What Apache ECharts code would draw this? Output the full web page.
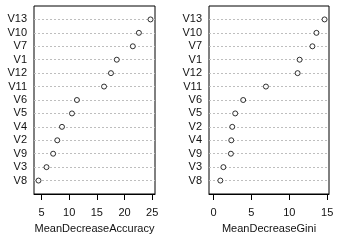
<!DOCTYPE html>
<html><head><meta charset="utf-8">
<script src="https://cdn.jsdelivr.net/npm/echarts@6/dist/echarts.min.js"></script>
<style>html,body{margin:0;padding:0;background:#fff}#c{width:341px;height:243px}</style>
</head><body><div id="c"></div>
<script>
// Left panel (bottom to top)
const accNames = ['V8','V3','V9','V2','V4','V5','V6','V11','V12','V1','V7','V10','V13'];
const accValues = [4.45, 5.9, 7.1, 7.85, 8.7, 10.5, 11.4, 16.3, 17.55, 18.6, 21.5, 22.6, 24.7];
// Right panel (bottom to top)
const giniNames = ['V8','V3','V9','V4','V2','V5','V6','V11','V12','V1','V7','V10','V13'];
const giniValues = [0.91, 1.31, 2.3, 2.35, 2.48, 2.87, 3.92, 6.92, 11.1, 11.36, 13.05, 13.58, 14.65];
const accTicks = [5, 10, 15, 20, 25];
const giniTicks = [0, 5, 10, 15];

const FONT = 'Liberation Sans, Arial, sans-serif';
const TXT = '#111';

function ext(lo, hi) { const s = hi - lo; return [lo - 0.04 * s, hi + 0.04 * s]; }
const accR = ext(Math.min(...accValues), Math.max(...accValues));
const giniR = ext(0, Math.max(...giniValues));

function xAx(idx, r, ticks, name) {
  return {
    gridIndex: idx, type: 'value', min: r[0], max: r[1],
    axisLine: { show: true, onZero: false, lineStyle: { color: '#000', width: 1 } },
    axisTick: { show: true, inside: false, length: 6, customValues: ticks, lineStyle: { color: '#000' } },
    axisLabel: { customValues: ticks, margin: 13, fontSize: 11, fontFamily: FONT, color: TXT },
    splitLine: { show: false },
    name: name, nameLocation: 'middle', nameGap: 29,
    nameTextStyle: { fontSize: 11, fontFamily: FONT, color: TXT }
  };
}
function yAx(idx, names) {
  return {
    gridIndex: idx, type: 'value', min: 0, max: 14, interval: 1,
    axisLine: { show: false }, axisTick: { show: false },
    axisLabel: { margin: 7, fontSize: 11, fontFamily: FONT, color: TXT,
      formatter: v => (v >= 1 && v <= names.length) ? names[v - 1] : '' },
    splitLine: { show: false }
  };
}
function ser(idx, names, values) {
  return {
    type: 'scatter', xAxisIndex: idx, yAxisIndex: idx,
    data: values.map((v, i) => [v, i + 1]),
    symbol: 'circle', symbolSize: 5,
    itemStyle: { color: '#fff', borderColor: '#000', borderWidth: 1 },
    z: 5,
    markLine: {
      silent: true, symbol: 'none', animation: false,
      label: { show: false },
      lineStyle: { color: '#bebebe', type: [2, 2], width: 1 },
      data: names.map((n, i) => ({ yAxis: i + 1 }))
    }
  };
}

const chart = echarts.init(document.getElementById('c'), null, { renderer: 'canvas' });
chart.setOption({
  animation: false,
  backgroundColor: '#fff',
  grid: [
    { left: 34, right: 186, top: 6, bottom: 49, show: true, borderColor: '#000', borderWidth: 1, backgroundColor: 'transparent' },
    { left: 209, right: 12, top: 6, bottom: 49, show: true, borderColor: '#000', borderWidth: 1, backgroundColor: 'transparent' }
  ],
  xAxis: [xAx(0, accR, accTicks, 'MeanDecreaseAccuracy'), xAx(1, giniR, giniTicks, 'MeanDecreaseGini')],
  yAxis: [yAx(0, accNames), yAx(1, giniNames)],
  series: [ser(0, accNames, accValues), ser(1, giniNames, giniValues)]
});
</script></body></html>
